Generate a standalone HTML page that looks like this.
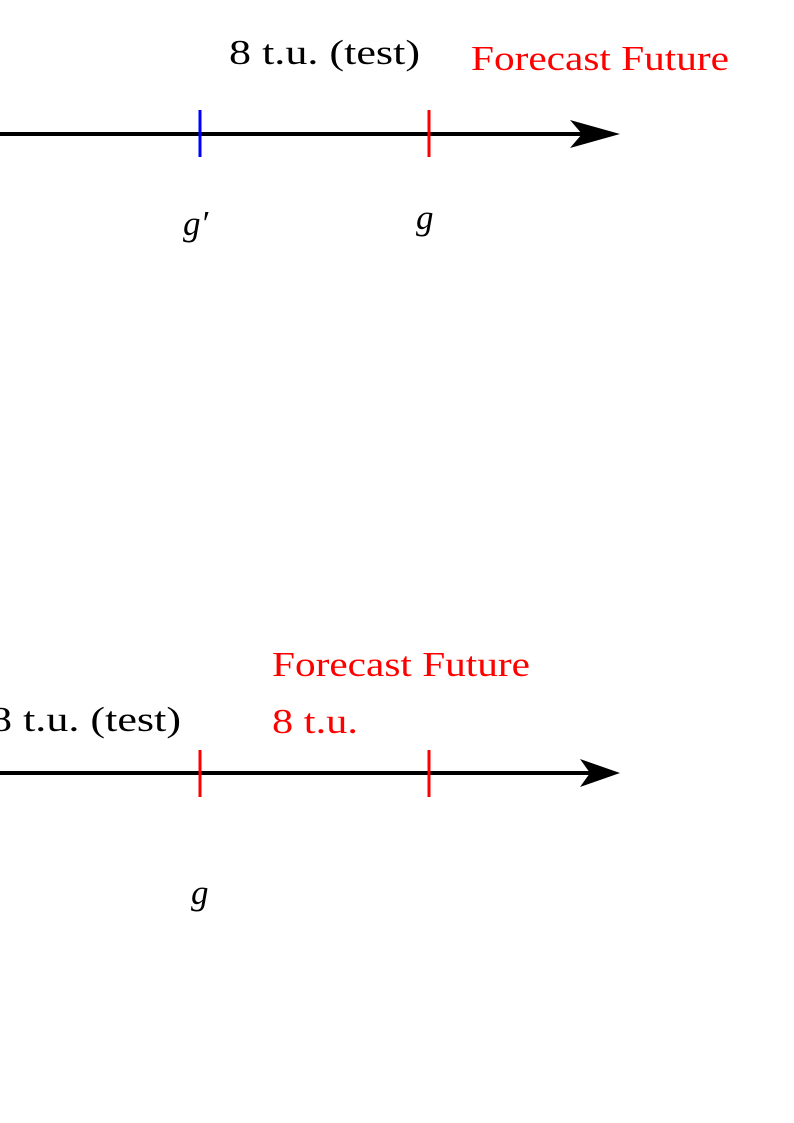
<!DOCTYPE html>
<html><head><meta charset="utf-8"><style>
html,body{margin:0;padding:0;background:#fff;}
svg{display:block;}
text{font-family:"Liberation Serif",serif;font-size:35px;}
</style></head><body>
<svg width="794" height="1123" viewBox="0 0 794 1123">
<g>
  <line x1="0" y1="134" x2="590" y2="134" stroke="#000" stroke-width="4"/>
  <path d="M620,134 L570,120 L582,134 L570,148 Z" fill="#000"/>
  <line x1="200" y1="110" x2="200" y2="157" stroke="#0000ff" stroke-width="3"/>
  <line x1="429" y1="110" x2="429" y2="157" stroke="#ff0000" stroke-width="3"/>
  <text x="229" y="64" textLength="191" lengthAdjust="spacingAndGlyphs">8 t.u. (test)</text>
  <text x="471" y="70" fill="#ff0000" textLength="258" lengthAdjust="spacingAndGlyphs">Forecast Future</text>
  <text x="183" y="235" font-style="italic">g′</text>
  <text x="416" y="229" font-style="italic">g</text>
</g>
<g>
  <line x1="0" y1="773" x2="590" y2="773" stroke="#000" stroke-width="4"/>
  <path d="M620,773 L580,759 L590,773 L580,787 Z" fill="#000"/>
  <line x1="200" y1="750" x2="200" y2="797" stroke="#ff0000" stroke-width="3"/>
  <line x1="429" y1="750" x2="429" y2="797" stroke="#ff0000" stroke-width="3"/>
  <text x="-10" y="731" textLength="191" lengthAdjust="spacingAndGlyphs">8 t.u. (test)</text>
  <text x="272" y="676" fill="#ff0000" textLength="258" lengthAdjust="spacingAndGlyphs">Forecast Future</text>
  <text x="272" y="733" fill="#ff0000" textLength="86" lengthAdjust="spacingAndGlyphs">8 t.u.</text>
  <text x="191" y="904" font-style="italic">g</text>
</g>
</svg>
</body></html>
